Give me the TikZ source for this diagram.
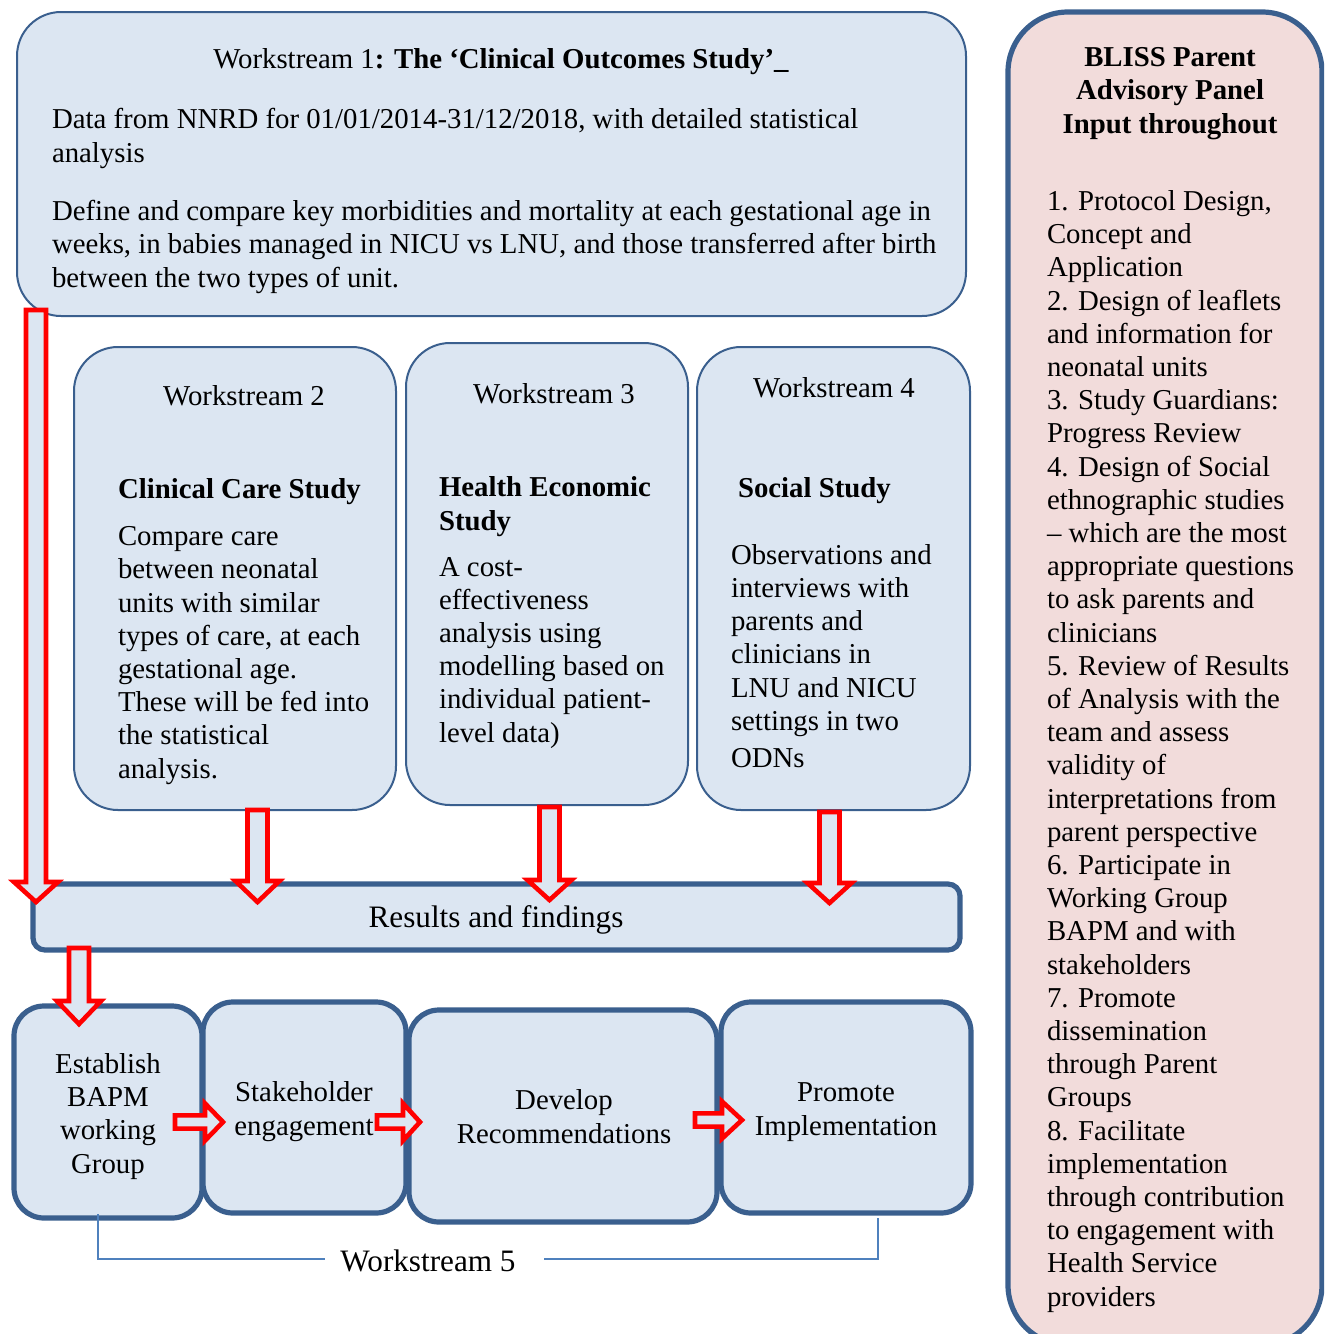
\documentclass[tikz,border=0pt]{standalone}
\usepackage{fontspec}
\setmainfont{Liberation Serif}
\usetikzlibrary{calc}
\definecolor{boxfill}{HTML}{DCE6F2}
\definecolor{boxline}{HTML}{3A5F8E}
\definecolor{panelfill}{HTML}{F2DCDB}
\definecolor{brack}{HTML}{4F81BD}
\definecolor{arrred}{HTML}{FF0000}
\tikzset{
  thinbox/.style={rectangle, draw=boxline, fill=boxfill, line width=1pt, rounded corners=22pt},
  thickbox/.style={rectangle, draw=boxline, fill=boxfill, line width=2.6pt, rounded corners=15pt},
  txt/.style={align=left, anchor=base west},
  ctxt/.style={align=center, anchor=base},
  bigtxt/.style={font=\fontsize{15.6}{17}\selectfont},
  barrow/.style={draw=arrred, fill=boxfill, line width=2.3pt, line join=miter},
  bracket/.style={draw=brack, line width=0.7pt}
}
% down block arrow from start coordinate #1 to tip coordinate #2, head length #3
\newcommand\blockdown[3]{%
  \path[barrow] let \p1=(#1), \p2=(#2) in
    (\x1-5pt,\y1) -- (\x1-5pt,\y2+#3) -- (\x1-11pt,\y2+#3) -- (\x1,\y2) --
    (\x1+11pt,\y2+#3) -- (\x1+5pt,\y2+#3) -- (\x1+5pt,\y1) -- cycle;}
% right block arrow
\newcommand\blockright[3]{%
  \path[barrow] let \p1=(#1), \p2=(#2) in
    (\x1,\y1+3.3pt) -- (\x2-#3,\y1+3.3pt) -- (\x2-#3,\y1+9.3pt) -- (\x2,\y1) --
    (\x2-#3,\y1-9.3pt) -- (\x2-#3,\y1-3.3pt) -- (\x1,\y1-3.3pt) -- cycle;}
\begin{document}
\begin{tikzpicture}[x=0.5pt,y=-0.5pt,
  every node/.style={font=\fontsize{14.4}{16.6}\selectfont, inner sep=0pt, outer sep=0pt}]
\useasboundingbox (0,0) rectangle (1324,1334);
\clip (0,0) rectangle (1324,1334);

% ---------- Workstream 1 ----------
\node[thinbox, minimum width=474.5pt, minimum height=152pt] (ws1) at (491.5,164) {};
\node[ctxt] (ws1t) at (501,68) {Workstream 1\textbf{: The ‘Clinical Outcomes Study’\_}};
% (multi-line text nodes are placed by the baseline of their last line)
\node[txt] (ws1a) at (52,162) {Data from NNRD for 01/01/2014-31/12/2018, with detailed statistical\\analysis};
\node[txt] (ws1b) at (52,287) {Define and compare key morbidities and mortality at each gestational age in\\weeks, in babies managed in NICU vs LNU, and those transferred after birth\\between the two types of unit.};

% ---------- Workstreams 2-4 ----------
\node[thinbox, minimum width=161pt, minimum height=231.5pt] (ws2) at (235,578.5) {};
\node[thinbox, minimum width=141pt, minimum height=231pt] (ws3) at (547,574) {};
\node[thinbox, minimum width=136.5pt, minimum height=231.5pt] (ws4) at (833.5,578.5) {};

\node[ctxt] (ws2t) at (244,405) {Workstream 2};
\node[txt] (ws2b) at (118,498) {\textbf{Clinical Care Study}};
\node[txt] (ws2c) at (118,778) {Compare care\\between neonatal\\units with similar\\types of care, at each\\gestational age.\\These will be fed into\\the statistical\\analysis.};

\node[ctxt] (ws3t) at (554,403) {Workstream 3};
\node[txt] (ws3b) at (439,530) {\textbf{Health Economic}\\\textbf{Study}};
\node[txt] (ws3c) at (439,742) {A cost-\\effectiveness\\analysis using\\modelling based on\\individual patient-\\level data)};

\node[ctxt] (ws4t) at (834,397) {Workstream 4};
\node[txt] (ws4b) at (738,497) {\textbf{Social Study}};
\node[txt] (ws4c) at (731,767) {Observations and\\interviews with\\parents and\\clinicians in\\LNU and NICU\\settings in two\\[1.8pt]ODNs};

% ---------- Results ----------
\node[thickbox, rounded corners=6pt, minimum width=463.5pt, minimum height=33pt] (res) at (496.5,917) {};
\node[ctxt, bigtxt] (rest) at (496,927) {Results and findings};

% ---------- Workstream 5 boxes ----------
\node[thickbox, minimum width=94pt, minimum height=106pt] (b1) at (108,1112) {};
\node[thickbox, minimum width=101.5pt, minimum height=105.5pt] (b2) at (304.5,1107.5) {};
\node[thickbox, minimum width=154pt, minimum height=106pt] (b3) at (563,1116) {};
\node[thickbox, minimum width=125pt, minimum height=105.5pt] (b4) at (846,1107.5) {};

\node[ctxt] (b1t) at (108,1173) {Establish\\BAPM\\working\\Group};
\node[ctxt] (b2t) at (304,1135) {Stakeholder\\engagement};
\node[ctxt] (b3t) at (564,1143) {Develop\\Recommendations};
\node[ctxt] (b4t) at (846,1135) {Promote\\Implementation};

% ---------- block arrows ----------
\coordinate (a1s) at (36,310);   \coordinate (a1e) at (36,902);
\coordinate (a2s) at (257.5,810); \coordinate (a2e) at (257.5,902);
\coordinate (a3s) at (549.5,807); \coordinate (a3e) at (549.5,900);
\coordinate (a4s) at (829.5,812); \coordinate (a4e) at (829.5,903);
\coordinate (a5s) at (79,948);   \coordinate (a5e) at (79,1024);
\blockdown{a1s}{a1e}{10pt}
\blockdown{a2s}{a2e}{10.5pt}
\blockdown{a3s}{a3e}{10pt}
\blockdown{a4s}{a4e}{10pt}
\blockdown{a5s}{a5e}{11.5pt}

\coordinate (h1s) at (175,1122); \coordinate (h1e) at (223,1122);
\coordinate (h2s) at (377,1122); \coordinate (h2e) at (420,1122);
\coordinate (h3s) at (695,1120); \coordinate (h3e) at (742,1120);
\blockright{h1s}{h1e}{9pt}
\blockright{h2s}{h2e}{8.5pt}
\blockright{h3s}{h3e}{10pt}

% ---------- Workstream 5 bracket ----------
\node[ctxt, bigtxt] (ws5) at (428,1271) {Workstream 5};
\coordinate (brl) at (98,1214);
\coordinate (brr) at (878,1218);
\draw[bracket] (brl) -- (98,1259) -- (325,1259);
\draw[bracket] (544,1259) -- (878,1259) -- (brr);

% ---------- BLISS panel ----------
\node[rectangle, draw=boxline, fill=panelfill, line width=2.6pt, rounded corners=30pt,
      minimum width=157pt, minimum height=666.5pt] (panel) at (1165,678.5) {};
\node[ctxt] (pt) at (1170,133) {\textbf{BLISS Parent}\\\textbf{Advisory Panel}\\\textbf{Input throughout}};
\node[txt] (pl) at (1047,1306) {1. Protocol Design,\\Concept and\\Application\\2. Design of leaflets\\and information for\\neonatal units\\3. Study Guardians:\\Progress Review\\4. Design of Social\\ethnographic studies\\– which are the most\\appropriate questions\\to ask parents and\\clinicians\\5. Review of Results\\of Analysis with the\\team and assess\\validity of\\interpretations from\\parent perspective\\6. Participate in\\Working Group\\BAPM and with\\stakeholders\\7. Promote\\dissemination\\through Parent\\Groups\\8. Facilitate\\implementation\\through contribution\\to engagement with\\Health Service\\providers};
\end{tikzpicture}
\end{document}
